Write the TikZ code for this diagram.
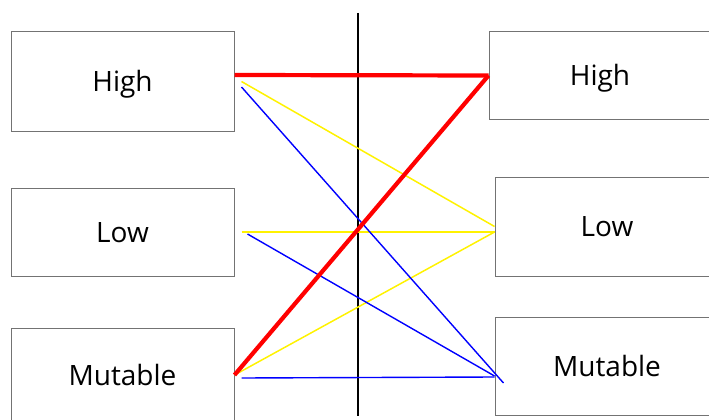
\documentclass[tikz,border=0pt]{standalone}
\usepackage{fontspec}
\setmainfont{Open Sans}
\usepackage{xcolor}
\usetikzlibrary{arrows.meta, positioning}

\begin{document}
\begin{tikzpicture}[x=1pt, y=-1pt, every node/.style={font=\fontsize{28}{32}\selectfont},
  box/.style={draw=black!55, line width=1pt, rectangle, inner sep=0pt, text height=20pt, text depth=0pt},
  pick/.style={red, line width=4.2pt},
  maybe/.style={yellow, line width=1.5pt},
  other/.style={blue, line width=1.4pt}]

\clip (0,0) rectangle (709,420);

\node[box, minimum width=223pt, minimum height=99pt] (highL) at (122.5,81.5) {High};
\node[box, minimum width=223pt, minimum height=88pt] (lowL) at (122.5,232) {Low};
\node[box, minimum width=223pt, minimum height=94pt] (mutL) at (122.5,375) {Mutable};

\node[box, minimum width=222pt, minimum height=87pt] (highR) at (600,75.5) {High};
\node[box, minimum width=224pt, minimum height=99pt] (lowR) at (607,226.5) {Low};
\node[box, minimum width=224pt, minimum height=98pt] (mutR) at (607,366) {Mutable};

\coordinate (divtop) at (358,13);
\coordinate (divbot) at (358,416);
\draw[black, line width=1.3pt] (divtop) -- (divbot);

\draw[maybe] ([xshift=7pt]highL.east) -- (lowR.west);
\draw[maybe] ([xshift=7pt]lowL.east) -- ([yshift=-5.5pt]lowR.west);
\draw[maybe] (mutL.east) -- ([yshift=-5.5pt]lowR.west);

\draw[other] ([xshift=7pt, yshift=-5.5pt]highL.east) -- ([xshift=9pt, yshift=-17pt]mutR.west);
\draw[other] ([xshift=13pt, yshift=-2pt]lowL.east) -- ([yshift=-10pt]mutR.west);
\draw[other] ([xshift=7pt, yshift=-3pt]mutL.east) -- ([yshift=-11pt]mutR.west);

\draw[pick] ([yshift=6.5pt]highL.east) -- (highR.west);
\draw[pick, line join=round] (highR.west) -- (mutL.east);

\end{tikzpicture}
\end{document}
